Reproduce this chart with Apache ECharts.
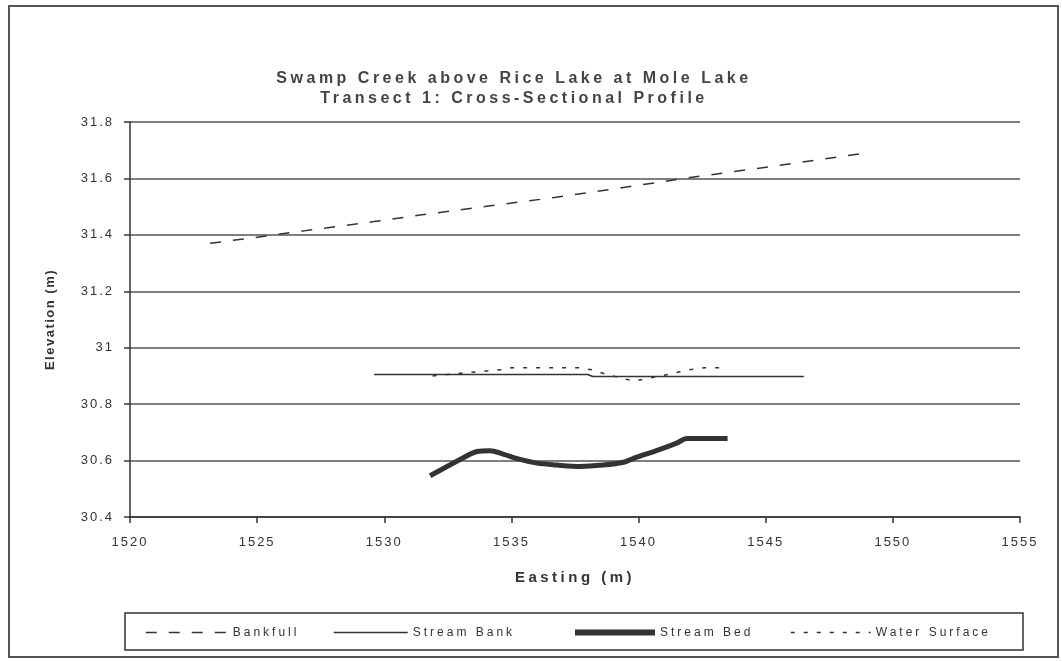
<!DOCTYPE html>
<html>
<head>
<meta charset="utf-8">
<script src="https://cdn.jsdelivr.net/npm/echarts@6/dist/echarts.min.js"></script>
<style>
html,body{margin:0;padding:0;background:#fff;}
#chart{width:1062px;height:661px;}
</style>
</head>
<body>
<div id="chart"></div>
<script>
// ---- data ----
var titleLines = ['Swamp Creek above Rice Lake at Mole Lake', 'Transect 1: Cross-Sectional Profile'];
var seriesNames = ['Bankfull', 'Stream Bank', 'Stream Bed', 'Water Surface'];
var xTicks = [1520, 1525, 1530, 1535, 1540, 1545, 1550, 1555];
var yTicks = [30.4, 30.6, 30.8, 31, 31.2, 31.4, 31.6, 31.8];

var bankfullX = [1523.15, 1525.2, 1526.9, 1529.6, 1531.4, 1534.1, 1536.75, 1538.6, 1542.1, 1544.8, 1548.8];
var bankfullY = [31.37, 31.394, 31.415, 31.447, 31.47, 31.502, 31.533, 31.557, 31.604, 31.637, 31.688];

var streamBankX = [1529.6, 1538.0, 1538.2, 1546.5];
var streamBankY = [30.905, 30.905, 30.898, 30.898];

var streamBedX = [1531.8, 1533.0, 1533.65, 1534.16, 1534.67, 1535.3, 1536.0, 1536.8, 1537.7, 1538.6, 1539.4, 1539.9, 1540.7, 1541.5, 1541.9, 1543.5];
var streamBedY = [30.546, 30.605, 30.632, 30.635, 30.623, 30.605, 30.591, 30.584, 30.579, 30.584, 30.594, 30.611, 30.635, 30.662, 30.678, 30.678];

var waterX = [1531.9, 1533.3, 1534.6, 1535.0, 1537.7, 1538.2, 1538.7, 1539.8, 1540.3, 1541.2, 1541.9, 1542.6, 1543.2];
var waterY = [30.90, 30.912, 30.922, 30.929, 30.929, 30.921, 30.906, 30.882, 30.89, 30.906, 30.921, 30.929, 30.929];

function pairs(xs, ys) { return xs.map(function (x, i) { return [x, ys[i]]; }); }

// Letter spacing of the original (wide, spaced-out type), applied per font.
(function () {
  var proto = window.CanvasRenderingContext2D && CanvasRenderingContext2D.prototype;
  if (!proto || !('letterSpacing' in proto)) return;
  function sp(font) {
    var m = /(\d+)px/.exec(font || ''); var size = m ? +m[1] : 12; var bold = /bold/.test(font);
    if (bold && size >= 15) return '3.5px';
    if (bold) return '1.5px';
    if (size === 12) return '3px';
    return '2px';
  }
  var f = proto.fillText, mt = proto.measureText;
  proto.fillText = function (t, x, y, w) { this.letterSpacing = sp(this.font); return w === undefined ? f.call(this, t, x, y) : f.call(this, t, x, y, w); };
  proto.measureText = function (t) { this.letterSpacing = sp(this.font); return mt.call(this, t); };
})();

var chart = echarts.init(document.getElementById('chart'));
var FONT = 'Liberation Sans, Arial, sans-serif';
var INK = '#333';

function legendAt(name, left, width, lineWidth) {
  return {
    data: [name], left: left, top: 625, padding: 0,
    itemWidth: width, itemHeight: 14,
    itemStyle: { opacity: 0 },
    lineStyle: { width: lineWidth },
    textStyle: { fontFamily: FONT, fontSize: 12, color: INK }
  };
}

chart.setOption({
  backgroundColor: '#fff',
  animation: false,
  textStyle: { fontFamily: FONT },
  title: {
    text: titleLines.join('\n'),
    left: 509, top: 64, textAlign: 'center',
    textStyle: { fontFamily: FONT, fontSize: 16, fontWeight: 'bold', color: '#444', lineHeight: 20 }
  },
  graphic: [
    { type: 'rect', shape: { x: 9, y: 6, width: 1049, height: 651 },
      style: { fill: 'none', stroke: '#555', lineWidth: 2 }, silent: true },
    { type: 'rect', shape: { x: 125, y: 613, width: 898, height: 37 },
      style: { fill: 'none', stroke: '#333', lineWidth: 1.5 }, silent: true }
  ],
  legend: [
    legendAt(seriesNames[0], 145, 82, 1.5),
    legendAt(seriesNames[1], 333, 74, 1.5),
    legendAt(seriesNames[2], 572, 80, 6),
    legendAt(seriesNames[3], 790, 80, 1.5)
  ],
  grid: { left: 130, right: 42, top: 122, bottom: 144, containLabel: false },
  xAxis: {
    type: 'value', min: 1520, max: 1555, interval: 5,
    name: 'Easting (m)', nameLocation: 'middle', nameGap: 52,
    nameTextStyle: { fontFamily: FONT, fontSize: 15, fontWeight: 'bold', color: INK },
    axisLine: { show: true, lineStyle: { color: '#333', width: 1.5 } },
    axisTick: { show: true, length: 6, lineStyle: { color: '#333', width: 1.5 } },
    axisLabel: { fontSize: 13, color: INK, margin: 18, formatter: function (v) { return xTicks.indexOf(v) >= 0 ? String(v) : ''; } },
    splitLine: { show: false }
  },
  yAxis: {
    type: 'value', min: 30.4, max: 31.8, interval: 0.2,
    name: 'Elevation (m)', nameLocation: 'middle', nameGap: 72, nameRotate: 90,
    nameTextStyle: { fontFamily: FONT, fontSize: 13, fontWeight: 'bold', color: INK },
    axisLine: { show: true, lineStyle: { color: '#333', width: 1.5 } },
    axisTick: { show: true, length: 6, lineStyle: { color: '#333', width: 1.5 } },
    axisLabel: { fontSize: 13, color: INK, margin: 16,
      formatter: function (v) { var r = Math.round(v * 10) / 10; return String(r); } },
    splitLine: { show: true, lineStyle: { color: '#555', width: 1.5 } }
  },
  series: [
    { name: seriesNames[0], type: 'line', data: pairs(bankfullX, bankfullY), symbol: 'none',
      lineStyle: { color: INK, width: 1.5, type: [11, 12] }, itemStyle: { color: INK } },
    { name: seriesNames[1], type: 'line', data: pairs(streamBankX, streamBankY), symbol: 'none',
      lineStyle: { color: INK, width: 1.5 }, itemStyle: { color: INK } },
    { name: seriesNames[2], type: 'line', data: pairs(streamBedX, streamBedY), symbol: 'none', smooth: 0.3,
      lineStyle: { color: INK, width: 5 }, itemStyle: { color: INK } },
    { name: seriesNames[3], type: 'line', data: pairs(waterX, waterY), symbol: 'none',
      lineStyle: { color: INK, width: 1.5, type: [4, 9] }, itemStyle: { color: INK } }
  ]
});
</script>
</body>
</html>
